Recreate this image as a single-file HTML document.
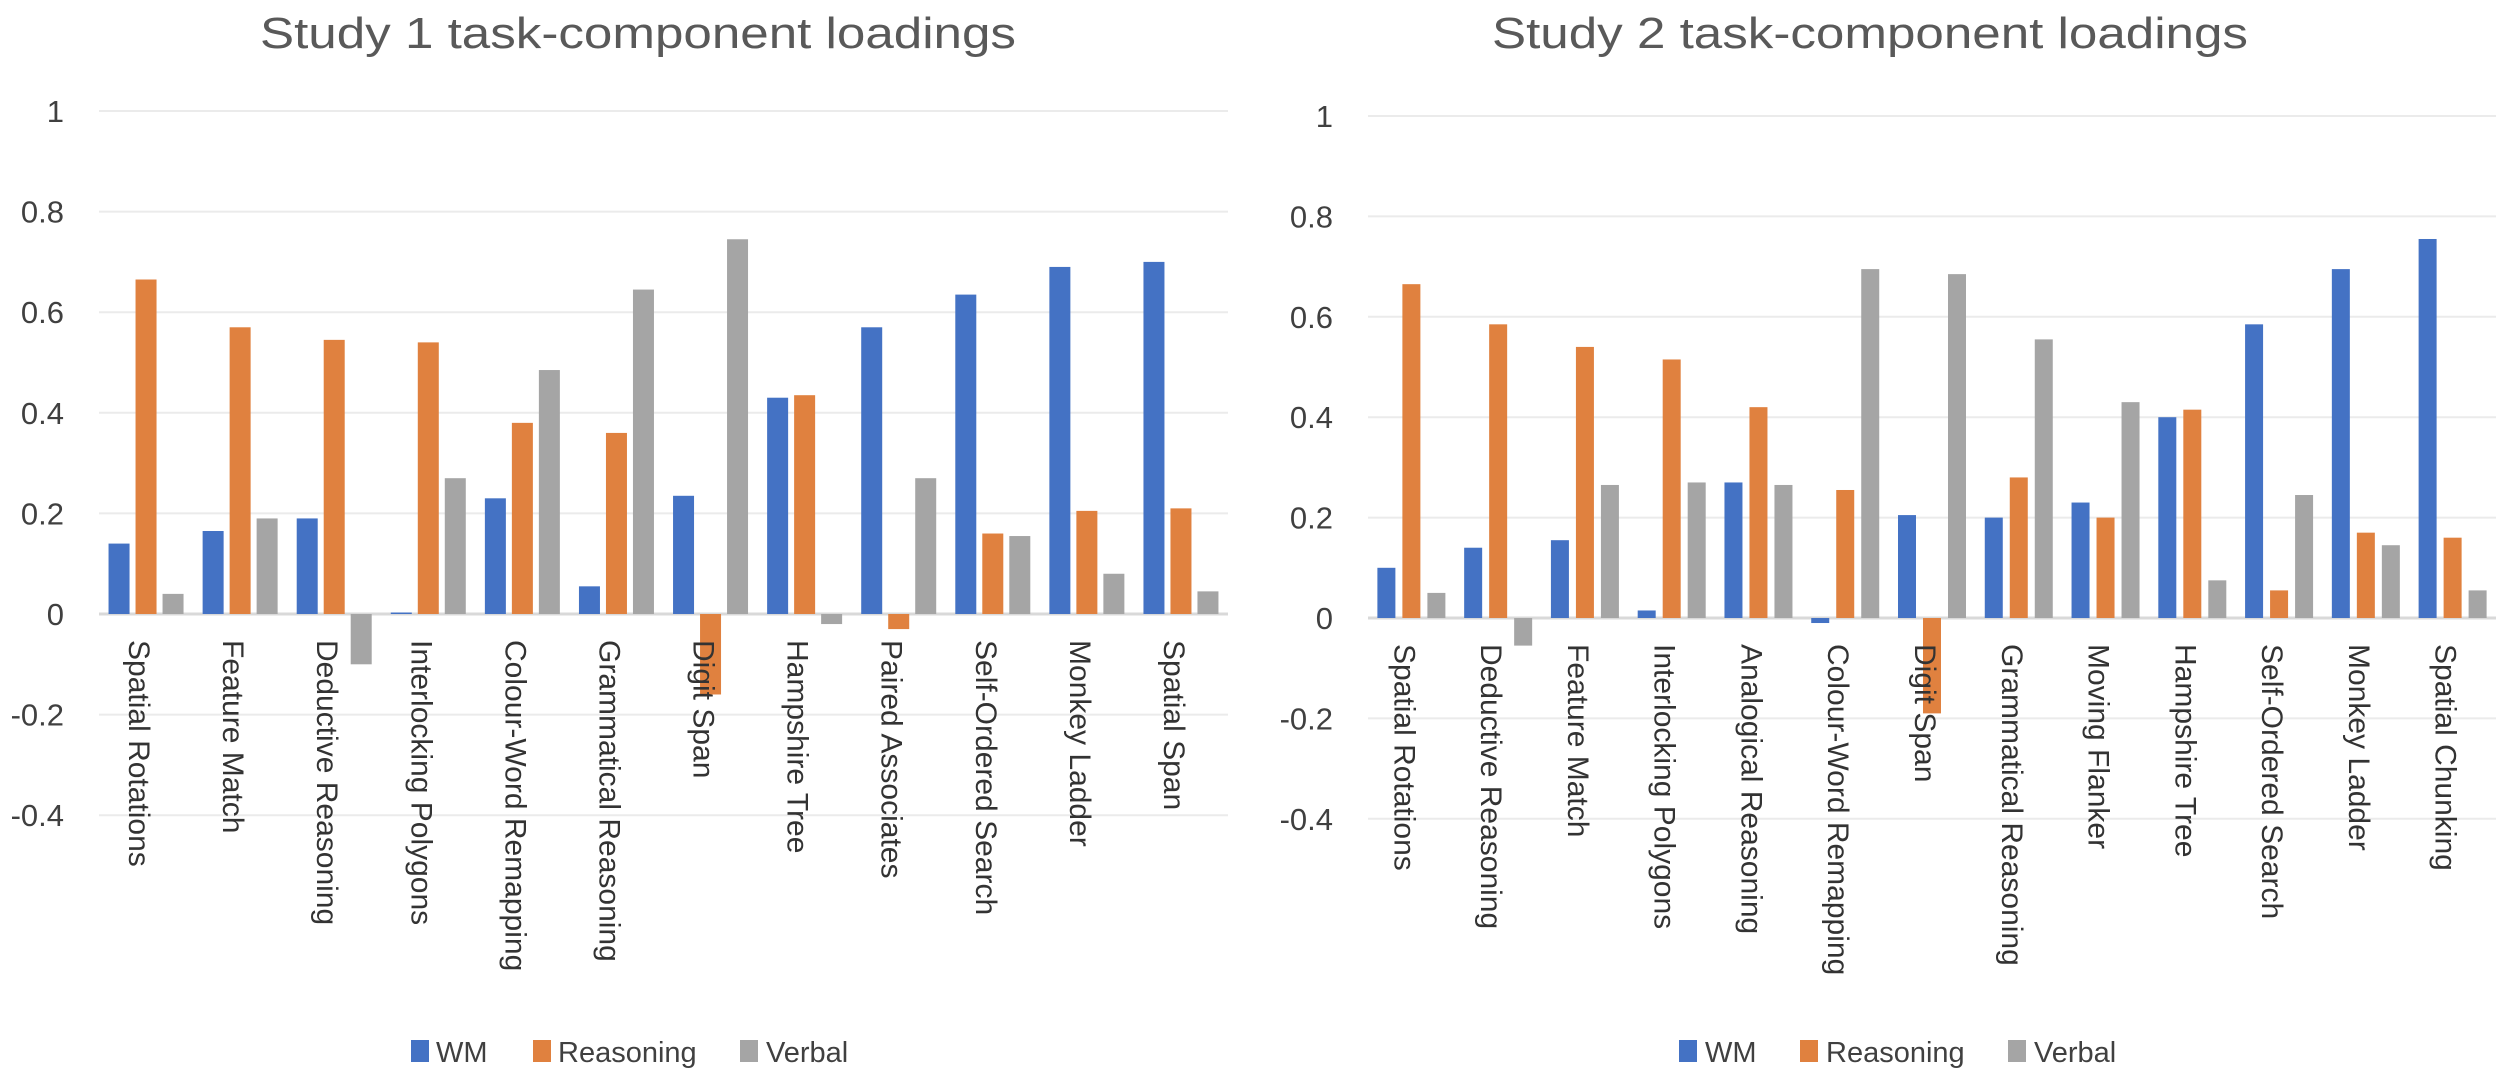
<!DOCTYPE html>
<html><head><meta charset="utf-8">
<style>
html,body{margin:0;padding:0;background:#fff;}
svg{display:block;font-family:"Liberation Sans",Arial,sans-serif;}
</style></head>
<body>
<svg id="chart" width="2500" height="1076" viewBox="0 0 2500 1076" xmlns="http://www.w3.org/2000/svg"></svg>
<script>
const seriesNames = ["WM","Reasoning","Verbal"];
const seriesColors = ["#4472C4","#E0813F","#A5A5A5"];
const tickValues = [1,0.8,0.6,0.4,0.2,0,-0.2,-0.4];
const tickLabels = ["1","0.8","0.6","0.4","0.2","0","-0.2","-0.4"];

const cats1 = ["Spatial Rotations","Feature Match","Deductive Reasoning","Interlocking Polygons","Colour-Word Remapping","Grammatical Reasoning","Digit Span","Hampshire Tree","Paired Associates","Self-Ordered Search","Monkey Ladder","Spatial Span"];
const wm1 = [0.14,0.165,0.19,0.003,0.23,0.055,0.235,0.43,0.57,0.635,0.69,0.70];
const reas1 = [0.665,0.57,0.545,0.54,0.38,0.36,-0.16,0.435,-0.03,0.16,0.205,0.21];
const verb1 = [0.04,0.19,-0.1,0.27,0.485,0.645,0.745,-0.02,0.27,0.155,0.08,0.045];

const cats2 = ["Spatial Rotations","Deductive Reasoning","Feature Match","Interlocking Polygons","Analogical Reasoning","Colour-Word Remapping","Digit Span","Grammatical Reasoning","Moving Flanker","Hampshire Tree","Self-Ordered Search","Monkey Ladder","Spatial Chunking"];
const wm2 = [0.10,0.14,0.155,0.015,0.27,-0.01,0.205,0.2,0.23,0.40,0.585,0.695,0.755];
const reas2 = [0.665,0.585,0.54,0.515,0.42,0.255,-0.19,0.28,0.2,0.415,0.055,0.17,0.16];
const verb2 = [0.05,-0.055,0.265,0.27,0.265,0.695,0.685,0.555,0.43,0.075,0.245,0.145,0.055];

const NS="http://www.w3.org/2000/svg";
const svg=document.getElementById('chart');
function mk(tag,attrs,parent){const e=document.createElementNS(NS,tag);for(const k in attrs)e.setAttribute(k,attrs[k]);(parent||svg).appendChild(e);return e;}

function drawChart(cfg){
  const g=mk('g',{});
  
  
  const y=v=>cfg.zeroY - v*cfg.unit;
  const groupW=(cfg.x1-cfg.x0)/cfg.cats.length;
  const xBand=i=>cfg.x0+i*groupW;
  const t=mk('text',{x:cfg.titleX,y:48,'text-anchor':'middle','font-size':44,fill:'#595959',textLength:756,lengthAdjust:'spacingAndGlyphs'},g);
  t.textContent=cfg.title;
  
  
  tickValues.forEach((v,i)=>{
    const ln=mk('line',{x1:cfg.x0,x2:cfg.x1,y1:y(v),y2:y(v),stroke:v===0?'#d9d9d9':'#ebebeb','stroke-width':v===0?3:2},g);
    
    
    const tx=mk('text',{x:cfg.labelX,y:y(v)+11,'text-anchor':'end','font-size':31,fill:'#404040'},g);
    tx.textContent=tickLabels[i];
    
    
  });
  const inner=3*cfg.bw+2*cfg.gap;
  const pad=(groupW-inner)/2;
  cfg.series.forEach((vals,s)=>{
    vals.forEach((v,i)=>{
      const bx=xBand(i)+pad+s*(cfg.bw+cfg.gap);
      const top=Math.min(y(v),y(0)), h=Math.max(Math.abs(y(v)-y(0)),1);
      const r=mk('rect',{x:bx,y:top,width:cfg.bw,height:h,fill:seriesColors[s]},g);
      
      
    });
  });
  cfg.cats.forEach((c,i)=>{
    const cx=xBand(i)+groupW/2-6;
    const tx=mk('text',{x:0,y:0,'font-size':30,fill:'#333333',transform:`translate(${cx-11},${cfg.zeroY+26}) rotate(90)`},g);
    tx.textContent=c;
    
    
  });
  cfg.legend.forEach((L,s)=>{
    const r=mk('rect',{x:L[0],y:1040,width:18,height:22,fill:seriesColors[s]},g);
    
    
    const tx=mk('text',{x:L[1],y:1062,'font-size':29,fill:'#404040'},g);
    tx.textContent=seriesNames[s];
    
    
  });
}

drawChart({name:'study1-chart',title:'Study 1 task-component loadings',titleX:638,x0:99,x1:1228,zeroY:614,unit:503,labelX:64,bw:21,gap:6,
  cats:cats1,series:[wm1,reas1,verb1],legend:[[411,436],[533,558],[740,766]]});
drawChart({name:'study2-chart',title:'Study 2 task-component loadings',titleX:1870,x0:1368,x1:2496,zeroY:618,unit:502,labelX:1333,bw:18,gap:7,
  cats:cats2,series:[wm2,reas2,verb2],legend:[[1679,1705],[1800,1826],[2008,2034]]});
</script>
</body></html>
